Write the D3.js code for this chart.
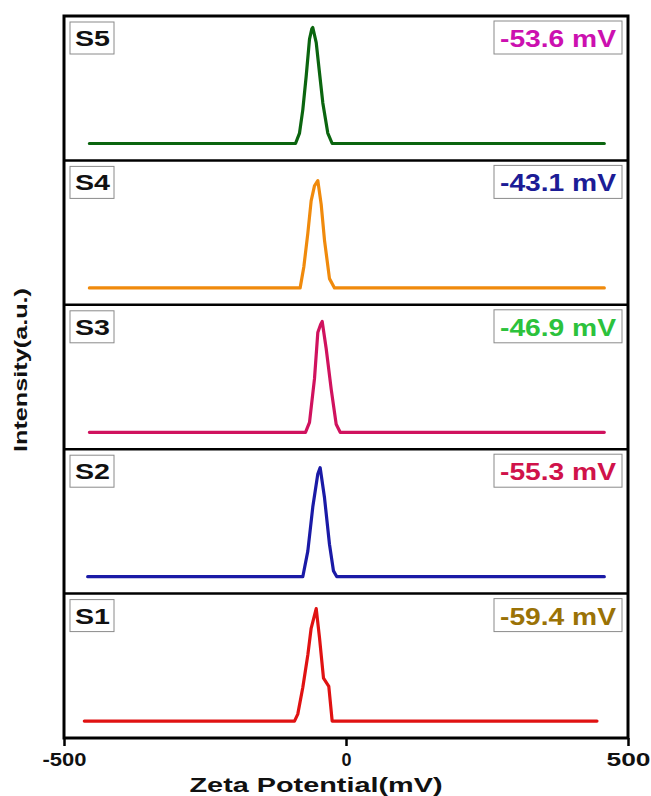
<!doctype html>
<html>
<head>
<meta charset="utf-8">
<title>zeta potential</title>
<script src="https://d3js.org/d3.v7.min.js"></script>
<style>
  body { margin: 0; background: #fff; }
  text { font-family: "Liberation Sans", Arial, sans-serif; font-weight: bold; }
</style>
</head>
<body>
<script>

// samples, top panel first
var sampleNames = ['S5', 'S4', 'S3', 'S2', 'S1'];
var zetaLabels = ['-53.6 mV', '-43.1 mV', '-46.9 mV', '-55.3 mV', '-59.4 mV'];
var lineColors = ['#0b650f', '#f08a0c', '#d0125e', '#1a1aa6', '#e01212'];
var labelColors = ['#cc10b0', '#1c1c96', '#2cc23c', '#d0124a', '#9a7206'];

// [zeta potential (mV), normalised intensity]
var s5 = [[-455, 0], [-89.5, 0], [-82.4, 0.09], [-76.6, 0.29], [-70.6, 0.58], [-64.7, 0.9], [-60.5, 0.99], [-58.9, 1.0],
          [-52.8, 0.87], [-47, 0.61], [-41.1, 0.35], [-32.3, 0.09], [-24.5, 0], [458, 0]];
var s4 = [[-455, 0], [-81.3, 0], [-74.8, 0.18], [-67.7, 0.47], [-61.8, 0.75], [-55.9, 0.88], [-50, 0.925],
          [-44, 0.72], [-38.1, 0.41], [-29.3, 0.08], [-20.4, 0], [458, 0]];
var s3 = [[-455, 0], [-71.8, 0], [-64.7, 0.086], [-55.9, 0.46], [-50, 0.86], [-45, 0.93], [-42.2, 0.955],
          [-35.1, 0.72], [-26.2, 0.37], [-17.4, 0.07], [-10.3, 0], [458, 0]];
var s2 = [[-458, 0], [-76.6, 0], [-67.7, 0.22], [-58.9, 0.6], [-50, 0.885], [-45.8, 0.94],
          [-38.1, 0.68], [-29.3, 0.28], [-22.2, 0.05], [-16.3, 0], [458, 0]];
var s1 = [[-464, 0], [-91.3, 0], [-85.5, 0.06], [-76.6, 0.29], [-67.7, 0.57], [-61.8, 0.8], [-52.8, 0.97],
          [-47, 0.72], [-39.9, 0.37], [-30.5, 0.3], [-24.5, 0], [445, 0]];
var seriesData = [s5, s4, s3, s2, s1];

var xTicks = [-500, 0, 500];

// layout
var width = 651, height = 796;
var plotLeft = 64, plotRight = 628, plotTop = 16, plotBottom = 738;
var panelH = (plotBottom - plotTop) / sampleNames.length;

var svg = d3.select('body').append('svg')
  .attr('width', width)
  .attr('height', height);

var x = d3.scaleLinear().domain([-500, 500]).range([plotLeft, plotRight]);

var line = d3.line()
  .x(function (d) { return x(d[0]); });

sampleNames.forEach(function (name, i) {
  var y0 = plotTop + i * panelH;
  var y = d3.scaleLinear().domain([0, 1]).range([y0 + 127.5, y0 + 11.5]);
  line.y(function (d) { return y(d[1]); });

  var g = svg.append('g');

  g.append('path')
    .datum(seriesData[i])
    .attr('d', line)
    .attr('fill', 'none')
    .attr('stroke', lineColors[i])
    .attr('stroke-width', 3.2)
    .attr('stroke-linejoin', 'round')
    .attr('stroke-linecap', 'round');

  // divider between panels
  if (i > 0) {
    g.append('line')
      .attr('x1', plotLeft).attr('x2', plotRight)
      .attr('y1', y0).attr('y2', y0)
      .attr('stroke', '#000')
      .attr('stroke-width', 2.5);
  }

  // sample name box
  g.append('rect')
    .attr('x', 70).attr('y', y0 + 6)
    .attr('width', 44).attr('height', 32)
    .attr('fill', '#fff')
    .attr('stroke', '#8a8a8a')
    .attr('stroke-width', 1);
  g.append('text')
    .attr('x', 75).attr('y', y0 + 30)
    .attr('font-size', 22)
    .attr('textLength', 35)
    .attr('lengthAdjust', 'spacingAndGlyphs')
    .attr('fill', '#111')
    .text(name);

  // zeta value box
  g.append('rect')
    .attr('x', 494).attr('y', y0 + 5)
    .attr('width', 128).attr('height', 33)
    .attr('fill', '#fff')
    .attr('stroke', '#8a8a8a')
    .attr('stroke-width', 1);
  g.append('text')
    .attr('x', 500).attr('y', y0 + 31)
    .attr('font-size', 23)
    .attr('textLength', 116)
    .attr('lengthAdjust', 'spacingAndGlyphs')
    .attr('fill', labelColors[i])
    .text(zetaLabels[i]);
});

// outer frame
svg.append('rect')
  .attr('x', plotLeft).attr('y', plotTop)
  .attr('width', plotRight - plotLeft).attr('height', plotBottom - plotTop)
  .attr('fill', 'none')
  .attr('stroke', '#000')
  .attr('stroke-width', 3);

// x axis
var xAxis = svg.append('g')
  .attr('transform', 'translate(0,' + plotBottom + ')')
  .call(d3.axisBottom(x).tickValues(xTicks).tickSize(8).tickPadding(7)
    .tickFormat(function (d) { return String(d); }));
xAxis.select('.domain').remove();
xAxis.selectAll('.tick line').attr('stroke-width', 2.5);
xAxis.selectAll('.tick text')
  .attr('font-size', 18)
  .attr('font-family', '"Liberation Sans", Arial, sans-serif')
  .attr('font-weight', 'bold')
  .attr('fill', '#111')
  .attr('textLength', 44)
  .attr('lengthAdjust', 'spacingAndGlyphs');
xAxis.selectAll('.tick').filter(function (d) { return d === 0; })
  .select('text').attr('textLength', null);

// axis titles
svg.append('text')
  .attr('x', 316).attr('y', 792)
  .attr('text-anchor', 'middle')
  .attr('font-size', 21)
  .attr('textLength', 253)
  .attr('lengthAdjust', 'spacingAndGlyphs')
  .attr('fill', '#111')
  .text('Zeta Potential(mV)');

svg.append('text')
  .attr('transform', 'translate(27,370) rotate(-90)')
  .attr('text-anchor', 'middle')
  .attr('font-size', 19)
  .attr('textLength', 164)
  .attr('lengthAdjust', 'spacingAndGlyphs')
  .attr('fill', '#111')
  .text('Intensity(a.u.)');

</script>
</body>
</html>
